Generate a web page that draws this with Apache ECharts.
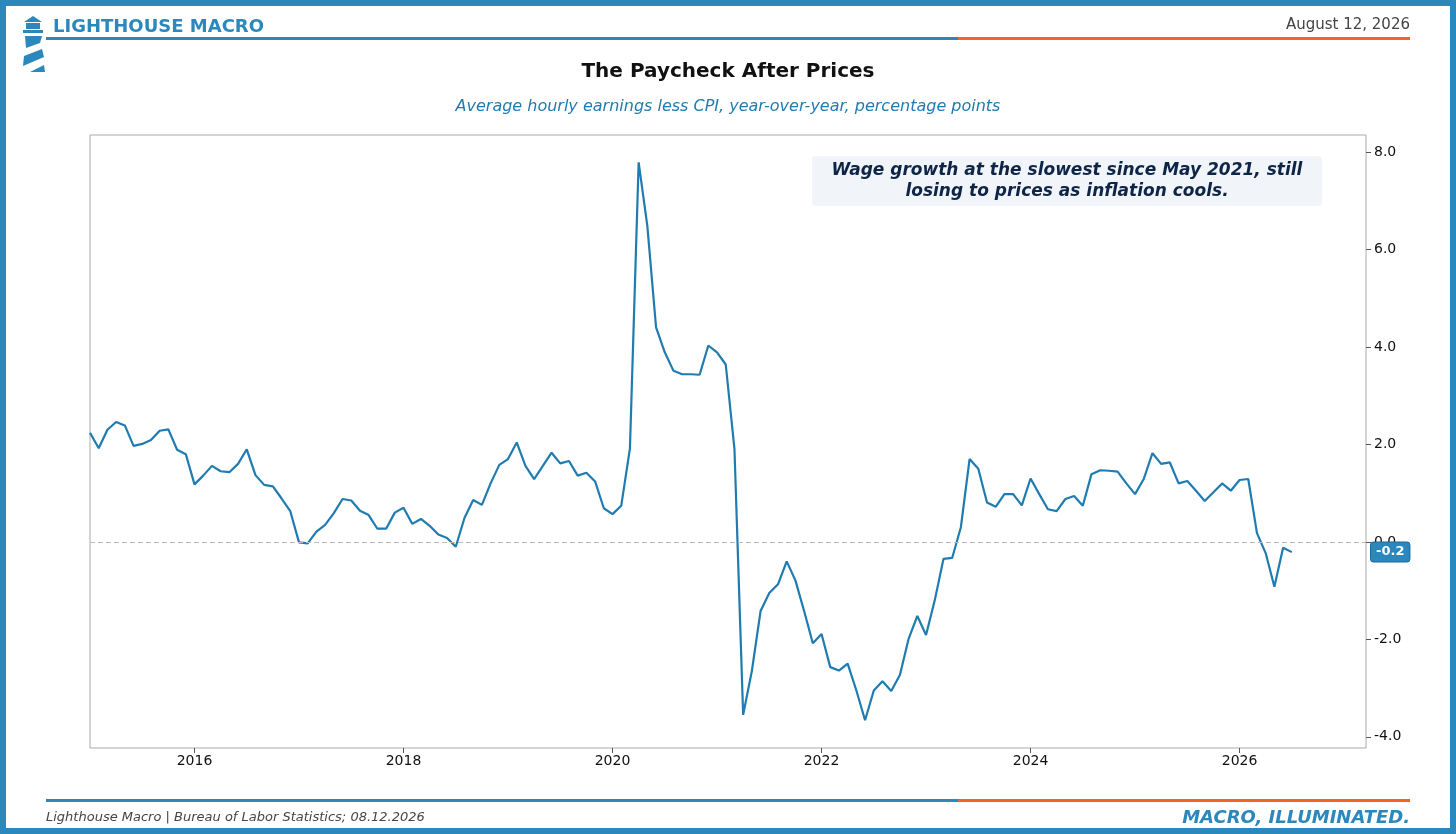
<!DOCTYPE html>
<html>
<head>
<meta charset="utf-8">
<script src="https://cdn.jsdelivr.net/npm/echarts@6/dist/echarts.min.js"></script>
<style>
  html, body { margin: 0; padding: 0; background: #fff; }
  #chart { width: 1456px; height: 834px; }
</style>
</head>
<body>
<div id="chart"></div>
<script>
// monthly, Jan 2015 .. Jul 2026
const startYear = 2015;
const realWage = [
    2.24, 1.92, 2.30, 2.46, 2.39, 1.97, 2.01, 2.09, 2.28, 2.31, 1.89, 1.80,
    1.18, 1.36, 1.56, 1.45, 1.43, 1.60, 1.90, 1.37, 1.17, 1.14, 0.89, 0.63,
    -0.01, -0.03, 0.21, 0.35, 0.59, 0.88, 0.85, 0.64, 0.55, 0.27, 0.27, 0.60,
    0.70, 0.37, 0.47, 0.33, 0.15, 0.08, -0.10, 0.49, 0.86, 0.76, 1.20, 1.58,
    1.70, 2.04, 1.56, 1.29, 1.56, 1.83, 1.61, 1.66, 1.36, 1.42, 1.24, 0.69,
    0.57, 0.74, 1.92, 7.79, 6.48, 4.40, 3.89, 3.51, 3.44, 3.44, 3.43, 4.03,
    3.89, 3.64, 1.91, -3.55, -2.65, -1.42, -1.05, -0.87, -0.40, -0.79, -1.42, -2.08,
    -1.89, -2.57, -2.64, -2.50, -3.05, -3.66, -3.05, -2.86, -3.06, -2.73, -1.99, -1.52,
    -1.91, -1.20, -0.35, -0.33, 0.30, 1.70, 1.50, 0.81, 0.72, 0.98, 0.98, 0.75,
    1.30, 0.98, 0.67, 0.63, 0.88, 0.94, 0.74, 1.39, 1.47, 1.46, 1.44, 1.20,
    0.98, 1.29, 1.82, 1.60, 1.63, 1.20, 1.25, 1.05, 0.84, 1.02, 1.20, 1.05,
    1.27, 1.29, 0.18, -0.23, -0.92, -0.12, -0.21
];
const yTicks = [-4, -2, 0, 2, 4, 6, 8];
const xTickYears = [2016, 2018, 2020, 2022, 2024, 2026];

// x as decimal year
const seriesData = realWage.map((v, i) => [startYear + i / 12, v]);
const lastVal = realWage[realWage.length - 1];

const blue = '#1f7bb0';
const frame = '#2b88bd';
const orange = '#f26522';
const font = 'DejaVu Sans';

const chart = echarts.init(document.getElementById('chart'));

// lighthouse logo pieces
const logo = [
    { type: 'polygon', shape: { points: [[24, 22], [33, 16], [42, 22]] }, style: { fill: frame } },
    { type: 'rect', shape: { x: 26, y: 23, width: 14, height: 6 }, style: { fill: frame } },
    { type: 'rect', shape: { x: 23, y: 30, width: 20, height: 3 }, style: { fill: frame } },
    { type: 'polygon', shape: { points: [[25, 36], [42, 36], [40, 43], [26, 48]] }, style: { fill: frame } },
    { type: 'polygon', shape: { points: [[24, 56], [42, 49], [44, 57], [23, 66]] }, style: { fill: frame } },
    { type: 'polygon', shape: { points: [[30, 72], [44, 65], [45, 72]] }, style: { fill: frame } }
];

const option = {
    backgroundColor: '#fff',
    textStyle: { fontFamily: font },
    animation: false,
    title: [
        { text: 'The Paycheck After Prices', left: 'center', top: 57,
          textStyle: { fontSize: 20, fontWeight: 'bold', color: '#111', fontFamily: font } },
        { text: 'Average hourly earnings less CPI, year-over-year, percentage points', left: 'center', top: 94,
          textStyle: { fontSize: 16, fontStyle: 'italic', fontWeight: 'normal', color: '#1f7bb0', fontFamily: font } }
    ],
    grid: { left: 90, right: 90, top: 135, bottom: 86, show: true, borderColor: '#aaa', borderWidth: 1 },
    xAxis: {
        type: 'value',
        min: 2015,
        max: 2027.21,
        splitLine: { show: false },
        axisLine: { show: false, onZero: false },
        axisTick: { show: true, customValues: xTickYears, lineStyle: { color: '#555' } },
        axisLabel: {
            customValues: xTickYears,
            formatter: v => String(v),
            color: '#111', fontSize: 14, margin: 6, fontFamily: font
        }
    },
    yAxis: {
        type: 'value',
        position: 'right',
        min: -4.23,
        max: 8.35,
        splitLine: { show: false },
        axisLine: { show: false },
        axisTick: { show: true, customValues: yTicks, lineStyle: { color: '#555' } },
        axisLabel: {
            customValues: yTicks,
            formatter: v => v.toFixed(1),
            color: '#111', fontSize: 14, margin: 8, fontFamily: font
        }
    },
    series: [{
        type: 'line',
        data: seriesData,
        showSymbol: false,
        lineStyle: { color: blue, width: 2.2 },
        itemStyle: { color: blue },
        markLine: {
            silent: true,
            symbol: 'none',
            data: [
                { yAxis: 0, lineStyle: { color: '#bbb', type: [5, 3], width: 1 }, label: { show: false } },
                { yAxis: lastVal, lineStyle: { color: 'rgba(0,0,0,0)', width: 0 },
                  label: { show: true, position: 'end', distance: 5, formatter: lastVal.toFixed(1),
                           color: '#fff', fontWeight: 'bold', fontSize: 13, fontFamily: font,
                           backgroundColor: '#2b88bd', borderColor: '#1a6a9a', borderWidth: 1,
                           padding: [3, 5], borderRadius: 3 } }
            ]
        }
    }],
    graphic: [
        { type: 'rect', shape: { x: 3, y: 3, width: 1450, height: 828 },
          style: { fill: 'none', stroke: frame, lineWidth: 6 } },
        ...logo,
        { type: 'text', left: 53, top: 18, style: { text: 'LIGHTHOUSE MACRO', fill: frame, font: 'bold 18px "DejaVu Sans"' } },
        { type: 'text', right: 46, top: 18, style: { text: 'August 12, 2026', fill: '#444', font: '15px "DejaVu Sans"' } },
        { type: 'rect', shape: { x: 46, y: 37, width: 912, height: 3 }, style: { fill: frame } },
        { type: 'rect', shape: { x: 958, y: 37, width: 452, height: 3 }, style: { fill: orange } },
        { type: 'rect', shape: { x: 46, y: 799, width: 912, height: 3 }, style: { fill: frame } },
        { type: 'rect', shape: { x: 958, y: 799, width: 452, height: 3 }, style: { fill: orange } },
        { type: 'text', left: 46, top: 811, style: { text: 'Lighthouse Macro | Bureau of Labor Statistics; 08.12.2026', fill: '#444', font: 'italic 13px "DejaVu Sans"' } },
        { type: 'text', right: 46, top: 809, style: { text: 'MACRO, ILLUMINATED.', fill: frame, font: 'italic bold 18px "DejaVu Sans"' } },
        { type: 'rect', shape: { x: 812, y: 156, width: 510, height: 50, r: 4 }, style: { fill: '#f1f5f9' } },
        { type: 'text', x: 1067, y: 181, style: {
            text: 'Wage growth at the slowest since May 2021, still\nlosing to prices as inflation cools.',
            fill: '#0f2548', font: 'italic bold 17px "DejaVu Sans"', align: 'center', verticalAlign: 'middle', lineHeight: 21 } }
    ]
};

chart.setOption(option);
</script>
</body>
</html>
